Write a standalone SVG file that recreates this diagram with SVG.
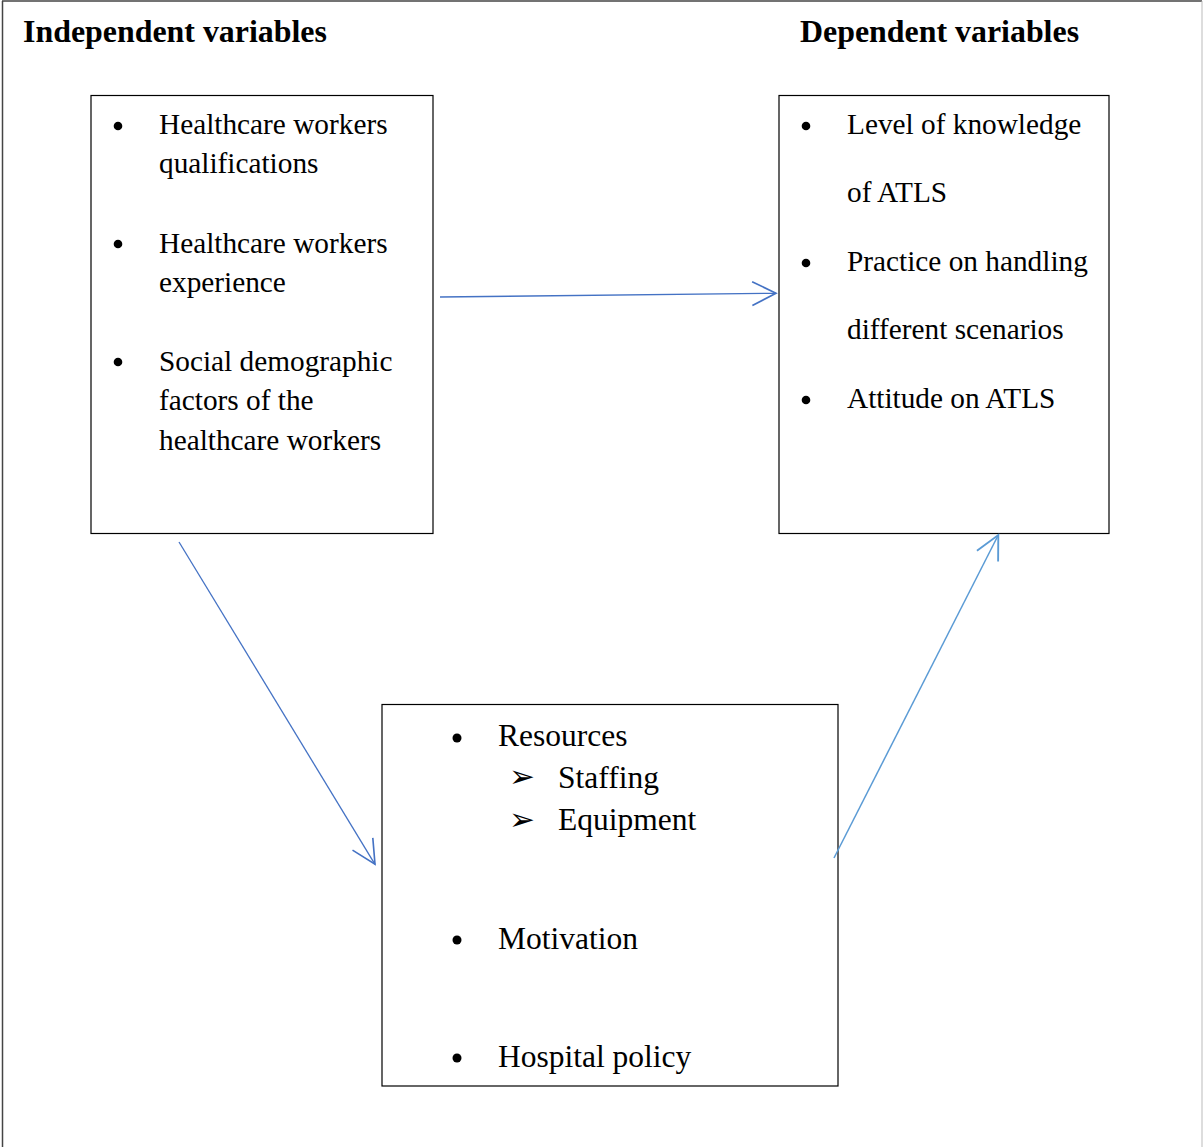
<svg xmlns="http://www.w3.org/2000/svg" width="1203" height="1147" viewBox="0 0 1203 1147">
<defs>
<style>
.t{font-family:"Liberation Serif","Times New Roman",serif;font-size:29.3px;fill:#000}
.b{font-family:"Liberation Serif","Times New Roman",serif;font-size:31.5px;fill:#000}
.h{font-family:"Liberation Serif","Times New Roman",serif;font-size:31.9px;font-weight:bold;fill:#000}
.box{fill:#fff;stroke:#000;stroke-width:1.2}
.dot{fill:#000}
.c1{stroke:#4472C4;stroke-width:1.3;fill:none}
.c2{stroke:#5B9BD5;stroke-width:1.5;fill:none}
.ar{font-family:"DejaVu Sans",sans-serif;font-size:31px;fill:#000}
</style>
<marker id="m1" markerUnits="userSpaceOnUse" markerWidth="30" markerHeight="30" refX="0" refY="0" viewBox="-22 -12 24 24" orient="auto" overflow="visible">
<path d="M-19,-9.5 L0,0 L-19,9.5" fill="none" stroke="#4472C4" stroke-width="1.3"/>
</marker>
<marker id="m2" markerUnits="userSpaceOnUse" markerWidth="30" markerHeight="30" refX="0" refY="0" viewBox="-22 -12 24 24" orient="auto" overflow="visible">
<path d="M-19,-9.5 L0,0 L-19,9.5" fill="none" stroke="#5B9BD5" stroke-width="1.5"/>
</marker>
</defs>
<rect x="0" y="0" width="1203" height="1147" fill="#fff"/>
<g id="frame">
<line x1="2.5" y1="1" x2="2.5" y2="1147" stroke="#444" stroke-width="1.5"/>
<line x1="2" y1="1" x2="1202" y2="1" stroke="#444" stroke-width="1.5"/>
<line x1="1202" y1="1" x2="1202" y2="1147" stroke="#bbb" stroke-width="1"/>
</g>
<g id="titles">
<text class="h" x="23" y="42">Independent variables</text>
<text class="h" x="800" y="42">Dependent variables</text>
</g>
<g id="independent">
<rect class="box" x="91" y="95.5" width="342" height="438"/>
<circle class="dot" cx="118" cy="126" r="4.3"/>
<text class="t" x="159" y="134">Healthcare workers</text>
<text class="t" x="159" y="173">qualifications</text>
<circle class="dot" cx="118" cy="244" r="4.3"/>
<text class="t" x="159" y="253">Healthcare workers</text>
<text class="t" x="159" y="292">experience</text>
<circle class="dot" cx="118" cy="362" r="4.3"/>
<text class="t" x="159" y="371">Social demographic</text>
<text class="t" x="159" y="410">factors of the</text>
<text class="t" x="159" y="450">healthcare workers</text>
</g>
<g id="dependent">
<rect class="box" x="779" y="95.5" width="330" height="438"/>
<circle class="dot" cx="806" cy="126" r="4.3"/>
<text class="t" x="847" y="134">Level of knowledge</text>
<text class="t" x="847" y="202">of ATLS</text>
<circle class="dot" cx="806" cy="263" r="4.3"/>
<text class="t" x="847" y="271">Practice on handling</text>
<text class="t" x="847" y="339">different scenarios</text>
<circle class="dot" cx="806" cy="400" r="4.3"/>
<text class="t" x="847" y="408">Attitude on ATLS</text>
</g>
<g id="intervening">
<rect class="box" x="382" y="704.5" width="456" height="381.5"/>
<circle class="dot" cx="457" cy="738" r="4.5"/>
<text class="b" x="498" y="746">Resources</text>
<text class="ar" x="509" y="786.5">➢</text>
<text class="b" x="558" y="788">Staffing</text>
<text class="ar" x="509" y="829.5">➢</text>
<text class="b" x="558" y="830">Equipment</text>
<circle class="dot" cx="457" cy="940" r="4.5"/>
<text class="b" x="498" y="949">Motivation</text>
<circle class="dot" cx="457" cy="1058" r="4.5"/>
<text class="b" x="498" y="1067">Hospital policy</text>
</g>
<g id="connectors">
<line class="c1" x1="440" y1="297" x2="776" y2="293.3" marker-end="url(#m1)"/>
<line class="c1" x1="179" y1="542" x2="375" y2="864.3" marker-end="url(#m1)"/>
<line class="c2" x1="834" y1="858" x2="998.3" y2="535" marker-end="url(#m2)"/>
</g>
</svg>
